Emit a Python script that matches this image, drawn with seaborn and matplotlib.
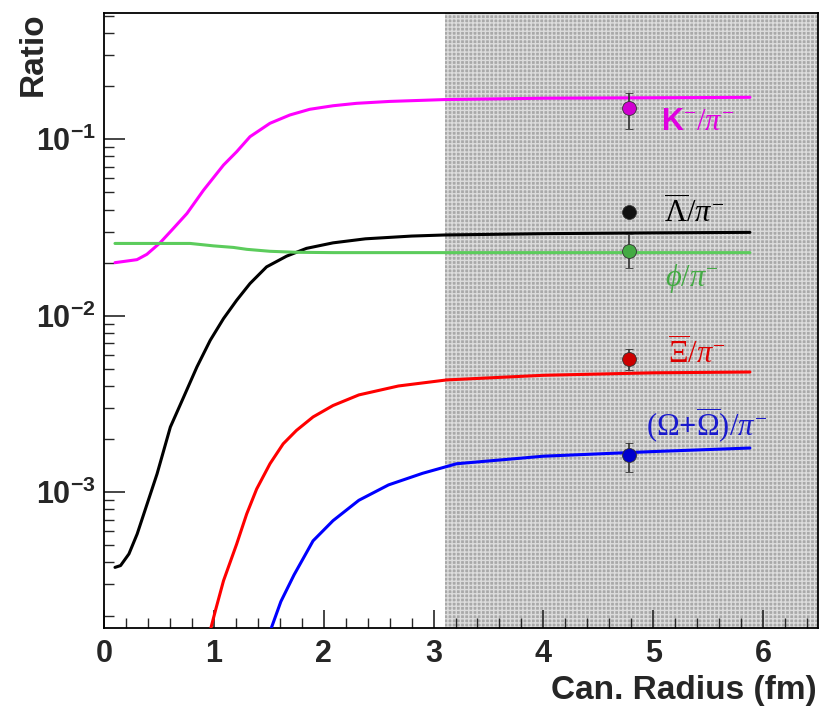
import numpy as np
import pandas as pd
import matplotlib
matplotlib.use("Agg")
import matplotlib.pyplot as plt
import matplotlib.ticker as mticker
from matplotlib import font_manager
import seaborn as sns

# curves: strangeness ratios vs canonical radius
k_x = [0.1, 0.30, 0.39, 0.51, 0.63, 0.755, 0.906, 1.088, 1.208, 1.329, 1.511, 1.692, 1.873, 2.085,
       2.3, 2.6, 3.1, 4.0, 5.0, 5.88]
k_y = [0.0200, 0.0208, 0.0223, 0.0259, 0.0312, 0.038, 0.0515, 0.0715, 0.0851, 0.1035, 0.1233,
       0.1374, 0.148, 0.155, 0.160, 0.164, 0.168, 0.171, 0.172, 0.173]

lam_x = [0.1, 0.151, 0.227, 0.302, 0.393, 0.483, 0.604, 0.725, 0.846, 0.967, 1.088, 1.208, 1.329,
         1.48, 1.662, 1.843, 2.085, 2.38, 2.8, 3.1, 4.0, 5.0, 5.88]
lam_y = [3.75e-4, 3.84e-4, 4.47e-4, 5.8e-4, 8.6e-4, 1.27e-3, 2.34e-3, 3.46e-3, 5.13e-3, 7.26e-3,
         9.64e-3, 0.01225, 0.01523, 0.01893, 0.02177, 0.0241, 0.0259, 0.0273, 0.0283, 0.0287,
         0.0292, 0.0295, 0.0297]

phi_x = [0.1, 0.785, 0.997, 1.178, 1.30, 1.51, 1.75, 2.085, 3.0, 4.0, 5.88]
phi_y = [0.0257, 0.0257, 0.0249, 0.0244, 0.0238, 0.0232, 0.0229, 0.0228, 0.0228, 0.0228, 0.0228]

xi_x = [0.95, 1.02, 1.088, 1.208, 1.299, 1.39, 1.511, 1.631, 1.752, 1.903, 2.085, 2.32, 2.68,
        3.12, 4.0, 5.0, 5.88]
xi_y = [1.5e-4, 2.2e-4, 3.15e-4, 5.09e-4, 7.53e-4, 1.044e-3, 1.45e-3, 1.88e-3, 2.24e-3, 2.67e-3,
        3.1e-3, 3.56e-3, 4.0e-3, 4.33e-3, 4.6e-3, 4.75e-3, 4.8e-3]

om_x = [1.50, 1.61, 1.73, 1.903, 2.085, 2.32, 2.59, 2.90, 3.21, 4.0, 5.0, 5.88]
om_y = [1.55e-4, 2.4e-4, 3.4e-4, 5.3e-4, 6.9e-4, 9.0e-4, 1.1e-3, 1.28e-3, 1.45e-3, 1.6e-3, 1.7e-3, 1.78e-3]

# measured points
data_x = 4.78
data_y = [0.150, 0.0386, 0.0232, 5.67e-3, 1.62e-3]
data_lo = [0.115, 0.0376, 0.0186, 4.9e-3, 1.3e-3]
data_hi = [0.182, 0.0396, 0.029, 6.5e-3, 1.9e-3]

labels = [r'$\mathsf{K}^{-}/\pi^{-}$', r'$\overline{\Lambda}/\pi^{-}$', r'$\phi/\pi^{-}$',
          r'$\overline{\Xi}/\pi^{-}$', r'$(\Omega\mathbf{+}\overline{\Omega})/\pi^{-}$']
label_x = [5.07, 5.10, 5.11, 5.13, 4.93]
label_y = [0.125, 0.038, 0.0163, 6.1e-3, 2.4e-3]

line_colors = ['#ff00ff', '#000000', '#5ccc5c', '#ff0000', '#0000ff']
point_colors = ['#d000d0', '#111111', '#44aa44', '#cc0000', '#0000cc']
text_colors = ['#e000e0', '#000000', '#44aa44', '#dd0000', '#1a1acc']

sns.set_style('ticks')

names = {f.name for f in font_manager.fontManager.ttflist}
sans = 'Liberation Sans Narrow' if 'Liberation Sans Narrow' in names else 'Liberation Sans'
plt.rcParams['font.family'] = [sans, 'DejaVu Sans']
plt.rcParams['mathtext.fontset'] = 'custom'
plt.rcParams['mathtext.rm'] = 'Liberation Serif'
plt.rcParams['mathtext.it'] = 'Liberation Serif:italic'
plt.rcParams['mathtext.bf'] = 'Liberation Serif:bold'
plt.rcParams['mathtext.sf'] = sans + ':bold'

fig = plt.figure(figsize=(8.2, 7.1), dpi=100)
ax = fig.add_axes([104 / 820, 1 - 628 / 710, (818 - 104) / 820, (628 - 13) / 710])

ax.axvspan(3.1, 6.5, facecolor='#a9a9a9', edgecolor='#dcdcdc', hatch='++++', linewidth=0.0, zorder=0)

curves = [(k_x, k_y), (lam_x, lam_y), (phi_x, phi_y), (xi_x, xi_y), (om_x, om_y)]
for (cx, cy), col in zip(curves, line_colors):
    df = pd.DataFrame({'r': cx, 'ratio': cy})
    sns.lineplot(data=df, x='r', y='ratio', ax=ax, color=col, lw=2.2, sort=False,
                 estimator=None, zorder=3)

for i in range(5):
    ax.errorbar([data_x], [data_y[i]],
                yerr=[[data_y[i] - data_lo[i]], [data_hi[i] - data_y[i]]],
                fmt='o', ms=10, color='#333333', mfc=point_colors[i], mec='#333333',
                mew=0.6, elinewidth=1.2, capsize=3, zorder=4)
    ax.text(label_x[i], label_y[i], labels[i], color=text_colors[i], fontsize=22,
            ha='left', va='center', zorder=5)

ax.set_yscale('log')
ax.set_xlim(0, 6.5)
ax.set_ylim(1.7e-4, 0.52)

ax.xaxis.set_major_locator(mticker.MultipleLocator(1))
ax.xaxis.set_minor_locator(mticker.MultipleLocator(0.2))
ax.yaxis.set_major_locator(mticker.LogLocator(base=10, numticks=10))
ax.yaxis.set_minor_locator(mticker.LogLocator(base=10, subs=np.arange(2, 10), numticks=20))
ax.yaxis.set_minor_formatter(mticker.NullFormatter())
ax.yaxis.set_major_formatter(mticker.FuncFormatter(
    lambda v, p: r'$\mathsf{10^{%d}}$' % int(round(np.log10(v)))))
ax.xaxis.set_major_formatter(mticker.FuncFormatter(lambda v, p: '%d' % v))

ax.tick_params(axis='x', which='major', direction='in', length=13, width=1.2, pad=8, labelsize=22)
ax.tick_params(axis='x', which='minor', direction='in', length=7, width=1.0)
ax.tick_params(axis='y', which='major', direction='in', length=15, width=1.2, pad=6, labelsize=22)
ax.tick_params(axis='y', which='minor', direction='in', length=7.5, width=1.0)
for lab in ax.get_xticklabels() + ax.get_yticklabels():
    lab.set_fontweight('bold')

for s in ax.spines.values():
    s.set_linewidth(1.3)
    s.set_color('black')
    s.set_visible(True)

ax.set_xlabel('')
ax.set_ylabel('')
fig.text(33 / 820, 1 - 12 / 710, 'Ratio', rotation=90, ha='center', va='top',
         fontsize=24, fontweight='bold', family=['Liberation Sans', 'DejaVu Sans'])
fig.text(817 / 820, 1 - 690 / 710, 'Can. Radius (fm)', ha='right', va='center',
         fontsize=24, fontweight='bold')

fig.savefig('out.png', dpi=100)
